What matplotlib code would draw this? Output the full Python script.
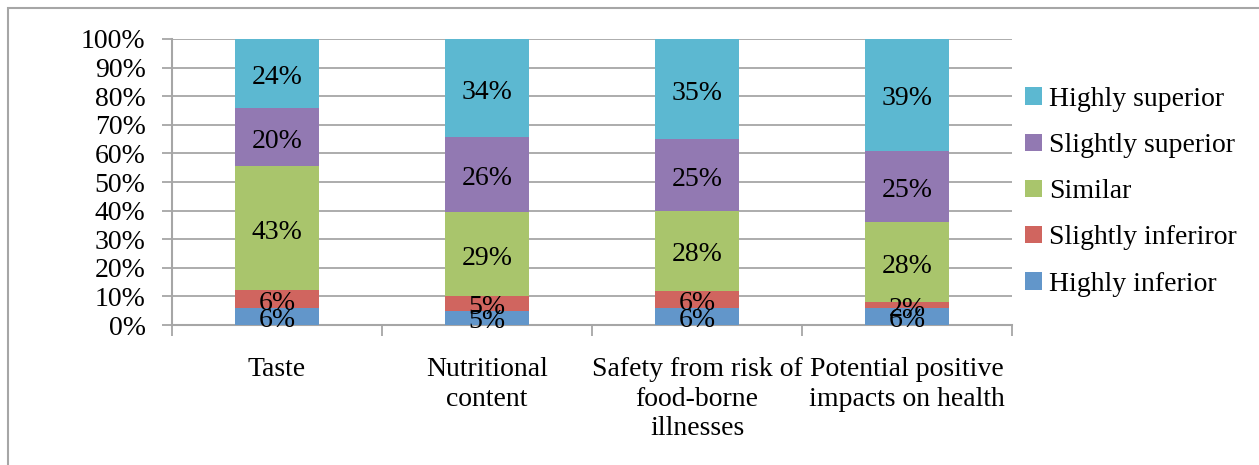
import matplotlib
matplotlib.use("Agg")
import matplotlib.pyplot as plt
from matplotlib.patches import Rectangle
from matplotlib.ticker import FixedLocator, PercentFormatter
import numpy as np

categories = ["Taste", "Nutritional\ncontent", "Safety from risk of\nfood-borne\nillnesses",
              "Potential positive\nimpacts on health"]
series_names = ["Highly inferior", "Slightly inferiror", "Similar", "Slightly superior", "Highly superior"]
highly_inferior = [6, 5, 6, 6]
slightly_inferior = [6, 5, 6, 2]
similar = [43, 29, 28, 28]
slightly_superior = [20, 26, 25, 25]
highly_superior = [24, 34, 35, 39]
colors = ["#6296CA", "#D0655F", "#A9C56C", "#9279B2", "#5CB8D1"]

plt.rcParams["font.family"] = ["Liberation Serif", "DejaVu Serif"]
FS = 20

data = np.array([highly_inferior, slightly_inferior, similar, slightly_superior, highly_superior], dtype=float)
shares = data / data.sum(axis=0) * 100

fig = plt.figure(figsize=(12.59, 4.65), dpi=100)
ax = fig.add_axes([172 / 1259, 1 - 325 / 465, (1012 - 172) / 1259, (325 - 39) / 465])

x = np.arange(len(categories))
bottom = np.zeros(len(categories))
handles = []
for i, name in enumerate(series_names):
    bars = ax.bar(x, shares[i], 0.4, bottom=bottom, color=colors[i], label=name, zorder=3)
    handles.append(bars)
    for j in range(len(categories)):
        ax.annotate(f"{int(data[i][j])}%", (x[j], bottom[j] + shares[i][j] / 2),
                    xytext=(0, -3), textcoords="offset points",
                    ha="center", va="center", fontsize=FS, color="black", zorder=4)
    bottom += shares[i]

ax.set_xlim(-0.5, len(categories) - 0.5)
ax.set_ylim(0, 100)
ax.yaxis.set_major_locator(FixedLocator(np.arange(0, 101, 10)))
ax.yaxis.set_major_formatter(PercentFormatter(decimals=0))
ax.grid(axis="y", color="#A6A6A6", linewidth=1.3, zorder=0)
ax.set_axisbelow(True)

for s in ["top", "right"]:
    ax.spines[s].set_visible(False)
for s in ["left", "bottom"]:
    ax.spines[s].set_color("#A6A6A6")
    ax.spines[s].set_linewidth(1.5)

ax.tick_params(axis="y", length=7, width=1.3, color="#A6A6A6", labelsize=FS, pad=12)
ax.set_xticks(x)
ax.set_xticklabels(categories, fontsize=FS, linespacing=1.25)
ax.tick_params(axis="x", length=0, pad=23)
ax.set_xticks(np.arange(-0.5, len(categories), 1), minor=True)
ax.tick_params(axis="x", which="minor", length=8, width=1.3, color="#A6A6A6")
for lbl in ax.get_xticklabels():
    lbl.set_verticalalignment("top")

leg = fig.legend(handles[::-1], series_names[::-1], loc="upper left",
                 bbox_to_anchor=(1014 / 1259, 1 - 76 / 465), frameon=False, fontsize=FS,
                 handlelength=0.6, handleheight=0.6, handletextpad=0.25, labelspacing=0.76,
                 borderaxespad=0)

fig.patches.append(Rectangle((8 / 1259, -0.1), 1.2, 1 - 8 / 465 + 0.1, transform=fig.transFigure,
                             fill=False, edgecolor="#A6A6A6", linewidth=1.5))

fig.savefig("out.png", dpi=100)
